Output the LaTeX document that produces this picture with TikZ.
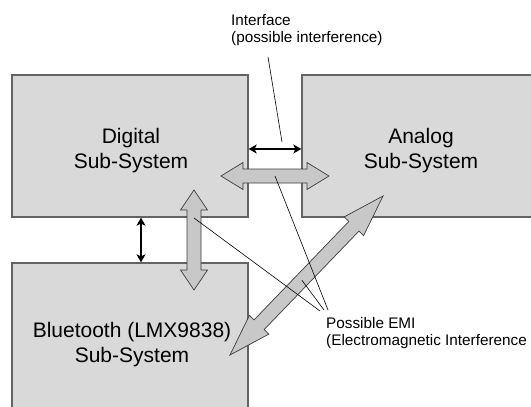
\documentclass[tikz,border=0pt]{standalone}
\usepackage{fontspec}
\setmainfont{Liberation Sans}
\usepackage{xcolor}
\usepackage{tikz}
\usetikzlibrary{arrows.meta,calc,positioning}

\definecolor{boxfill}{RGB}{217,217,217}
\definecolor{boxline}{RGB}{100,100,100}
\definecolor{arrfill}{RGB}{200,200,200}
\definecolor{arrline}{RGB}{60,60,60}

\tikzset{
  subsys/.style={draw=boxline,fill=boxfill,line width=1.3pt,inner sep=0pt},
  syslabel/.style={inner sep=0pt,align=center,font=\fontsize{21}{25}\selectfont},
  notelabel/.style={inner sep=0pt,align=left,font=\fontsize{15.3}{17.5}\selectfont},
  blockarr/.style={draw=arrline,fill=arrfill,line width=0.7pt,line join=miter},
  linkarr/.style={line width=2pt,{Stealth[length=8pt,width=9pt,inset=2pt]}-{Stealth[length=8pt,width=9pt,inset=2pt]}},
  pointer/.style={line width=0.6pt}
}

% wide grey double arrow: tip a, tip b, head length
\newcommand{\blockarrow}[3]{%
  \coordinate (ha) at ($(#1)!#3!(#2)$);
  \coordinate (hb) at ($(#2)!#3!(#1)$);
  \draw[blockarr] (#1) -- ($(ha)!13.5pt!90:(#2)$) -- ($(ha)!7pt!90:(#2)$)
    -- ($(hb)!7pt!-90:(#1)$) -- ($(hb)!13.5pt!-90:(#1)$) -- (#2)
    -- ($(hb)!13.5pt!90:(#1)$) -- ($(hb)!7pt!90:(#1)$)
    -- ($(ha)!7pt!-90:(#2)$) -- ($(ha)!13.5pt!-90:(#2)$) -- cycle;
}

\begin{document}
\begin{tikzpicture}[x=1pt,y=-1pt]
  \useasboundingbox (0,0) rectangle (531,407);
  \clip (0,0) rectangle (531,407);

  % sub-systems
  \node[subsys,minimum width=236pt,minimum height=142pt] (dig) at (130,146) {};
  \node[subsys,minimum width=238pt,minimum height=142pt] (ana) at (421,146) {};
  \node[subsys,minimum width=236pt,minimum height=160pt] (bt) at (130,343) {};

  \node[syslabel,anchor=north] (diglbl) at (131,128.5) {Digital\\Sub-System};
  \node[syslabel,anchor=north] (analbl) at (421,128.5) {Analog\\Sub-System};
  \node[syslabel,anchor=north] (btlbl) at (132,322) {Bluetooth (LMX9838)\\Sub-System};

  % wired interfaces
  \coordinate (ifl) at (dig.east |- 0,149);
  \coordinate (ifr) at (ana.west |- 0,149);
  \draw[linkarr] (ifl) -- (ifr);
  \draw[linkarr] (dig.south -| 141,0) -- (bt.north -| 141,0);

  % coupling paths
  \coordinate (hl) at (221,176);
  \coordinate (hr) at (329,176);
  \blockarrow{hl}{hr}{22pt}
  \coordinate (vt) at (194,190);
  \coordinate (vb) at (194,290);
  \blockarrow{vt}{vb}{20pt}
  \coordinate (dl) at (230,355);
  \coordinate (du) at (383,196);
  \blockarrow{dl}{du}{42pt}

  % notes
  \node[notelabel,anchor=north west] (ifnote) at (231,14) {Interface\\(possible interference)};
  \node[notelabel,anchor=north west] (eminote) at (326,317) {Possible EMI\\(Electromagnetic Interference};

  \coordinate (ifsrc) at (268,57);
  \coordinate (ifdst) at (282,142);
  \draw[pointer] (ifsrc) -- (ifdst);

  \coordinate (e1) at (320,311);
  \coordinate (e2) at (324,310);
  \coordinate (e3) at (328,310);
  \draw[pointer] (194,218) -- (e1);
  \draw[pointer] ($(dl)!0.47!(du)$) -- (e2);
  \draw[pointer] ($(hl)!0.5!(hr)$) -- (e3);
\end{tikzpicture}
\end{document}
